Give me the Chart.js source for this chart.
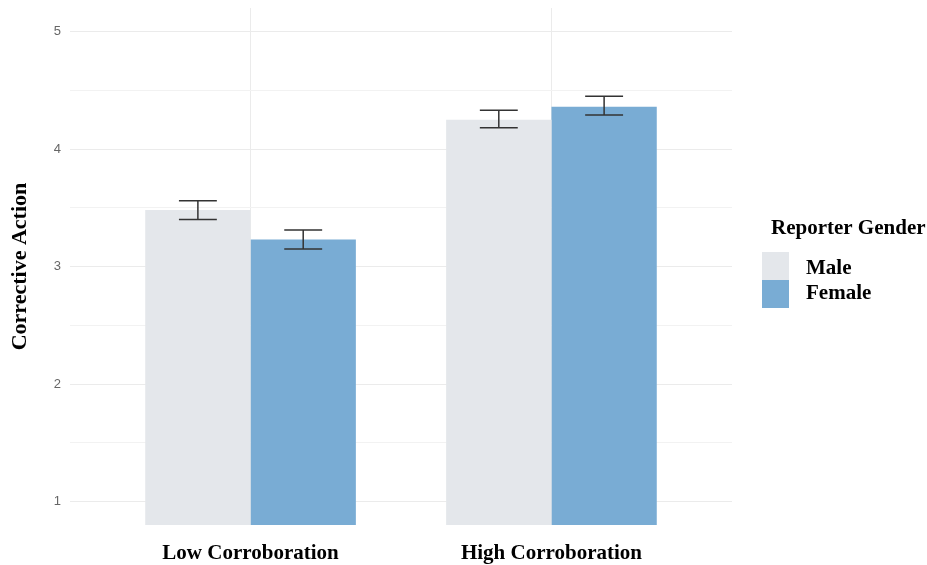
<!DOCTYPE html>
<html>
<head>
<meta charset="utf-8">
<script src="https://cdn.jsdelivr.net/npm/chart.js@4.4.0/dist/chart.umd.min.js"></script>
<style>
    html, body { margin: 0; padding: 0; background: #fff; }
    canvas { display: block; }
</style>
</head>
<body>
<canvas id="grafico" width="927" height="565"></canvas>
<script>
// Datos
const categorias = ['Low Corroboration', 'High Corroboration'];
const generos = ['Male', 'Female'];
const media_male = [3.48, 4.25];
const media_female = [3.23, 4.36];
const inf_male = [3.40, 4.18];
const sup_male = [3.56, 4.33];
const inf_female = [3.15, 4.29];
const sup_female = [3.31, 4.45];
const ticks_y = [1, 1.5, 2, 2.5, 3, 3.5, 4, 4.5, 5];
const colores = ['#e4e7eb', '#79acd4'];

const serif = '"Liberation Serif", "Times New Roman", serif';

// barras de error (media +- error estandar)
const barrasError = {
    id: 'barrasError',
    afterDatasetsDraw(chart) {
        const ctx = chart.ctx;
        const y = chart.scales.y;
        chart.data.datasets.forEach((ds, d) => {
            chart.getDatasetMeta(d).data.forEach((bar, i) => {
                const x = bar.x;
                const mitad = bar.width * 0.18;
                const yInf = y.getPixelForValue(ds.inferior[i]);
                const ySup = y.getPixelForValue(ds.superior[i]);
                ctx.save();
                ctx.strokeStyle = '#333';
                ctx.lineWidth = 1.5;
                ctx.beginPath();
                ctx.moveTo(x, yInf); ctx.lineTo(x, ySup);
                ctx.moveTo(x - mitad, yInf); ctx.lineTo(x + mitad, yInf);
                ctx.moveTo(x - mitad, ySup); ctx.lineTo(x + mitad, ySup);
                ctx.stroke();
                ctx.restore();
            });
        });
    }
};

// leyenda a la derecha
const leyenda = {
    id: 'leyenda',
    afterDraw(chart) {
        const ctx = chart.ctx;
        ctx.save();
        ctx.fillStyle = '#000';
        ctx.textAlign = 'left';
        ctx.textBaseline = 'alphabetic';
        ctx.font = 'bold 21px ' + serif;
        ctx.fillText('Reporter Gender', 771, 234);
        chart.data.datasets.forEach((ds, i) => {
            ctx.fillStyle = ds.backgroundColor;
            ctx.fillRect(762, 252 + i * 28, 27, 28);
            ctx.fillStyle = '#000';
            ctx.font = 'bold 21px ' + serif;
            ctx.fillText(ds.label, 806, 274 + i * 25);
        });
        ctx.restore();
    }
};

const grafico = document.getElementById('grafico').getContext('2d');
const data = {
    datasets: [
        {
            label: generos[0],
            data: media_male.map((v, i) => ({ x: i + 1, y: v })),
            inferior: inf_male,
            superior: sup_male,
            backgroundColor: colores[0],
            borderWidth: 0
        },
        {
            label: generos[1],
            data: media_female.map((v, i) => ({ x: i + 1, y: v })),
            inferior: inf_female,
            superior: sup_female,
            backgroundColor: colores[1],
            borderWidth: 0
        }
    ]
};

new Chart(grafico, {
    type: 'bar',
    data: data,
    options: {
        responsive: false,
        animation: false,
        devicePixelRatio: 1,
        categoryPercentage: 0.7,
        barPercentage: 1.0,
        layout: { padding: { top: 8, right: 195, left: 0, bottom: 0 } },
        plugins: {
            legend: { display: false },
            tooltip: { enabled: false }
        },
        scales: {
            x: {
                type: 'linear',
                min: 0.4,
                max: 2.6,
                offset: false,
                afterBuildTicks: s => { s.ticks = categorias.map((c, i) => ({ value: i + 1 })); },
                afterFit: s => { s.height = 40; },
                border: { display: false },
                grid: { color: '#ebebeb', drawTicks: false, offset: false },
                ticks: {
                    padding: 16,
                    color: '#000',
                    autoSkip: false,
                    maxRotation: 0,
                    font: { family: serif, size: 21, weight: 'bold' },
                    callback: v => categorias[v - 1]
                }
            },
            y: {
                min: 0.8,
                max: 5.2,
                afterBuildTicks: s => { s.ticks = ticks_y.map(v => ({ value: v })); },
                afterFit: s => {
                    s.width = 70;
                    s.paddingTop = 0; // sin margen extra arriba
                    s.paddingBottom = 0;
                },
                border: { display: false },
                grid: {
                    drawTicks: false,
                    color: c => Number.isInteger(c.tick.value) ? '#ebebeb' : '#f2f2f2'
                },
                ticks: {
                    padding: 9,
                    color: '#666',
                    font: { family: '"Liberation Sans", Arial, sans-serif', size: 13 },
                    callback: v => Number.isInteger(v) ? v : ''
                },
                title: {
                    display: true,
                    text: 'Corrective Action',
                    color: '#000',
                    font: { family: serif, size: 22, weight: 'bold' },
                    padding: { top: 7, bottom: 0 }
                }
            }
        }
    },
    plugins: [barrasError, leyenda]
});
</script>
</body>
</html>
